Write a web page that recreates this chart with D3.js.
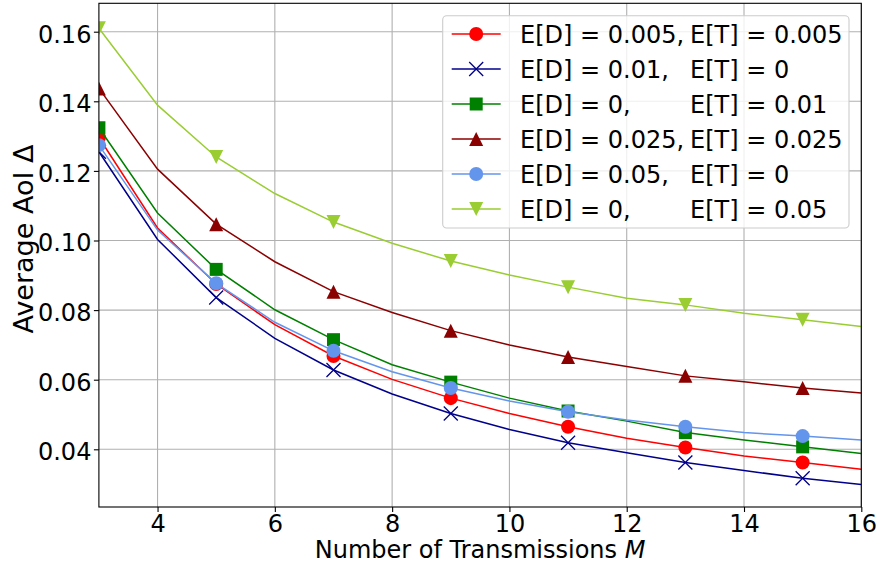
<!DOCTYPE html>
<html>
<head>
<meta charset="utf-8">
<script src="https://cdn.jsdelivr.net/npm/d3@7"></script>
<style>
  html, body { margin: 0; padding: 0; background: #fff; }
  svg { display: block; font-family: "DejaVu Sans", sans-serif; }
</style>
</head>
<body>
<svg id="chart" width="881" height="567"></svg>
<script>
// Number of transmissions M (line vertices) and the subset carrying markers
const mValues = [3, 4, 5, 6, 7, 8, 9, 10, 11, 12, 13, 14, 15, 16];
const markerEvery = 2;

// Average AoI for each (E[D], E[T]) setting
const aoiRed      = [0.1296, 0.1036, 0.0875, 0.0758, 0.0668, 0.0601, 0.0547, 0.0503, 0.0465, 0.0432, 0.0405, 0.0381, 0.0362, 0.0343];
const aoiNavy     = [0.1255, 0.1003, 0.0836, 0.0719, 0.0628, 0.0559, 0.0503, 0.0457, 0.0419, 0.0390, 0.0362, 0.0339, 0.0317, 0.0299];
const aoiGreen    = [0.1324, 0.1079, 0.0917, 0.0801, 0.0715, 0.0643, 0.0593, 0.0547, 0.0510, 0.0481, 0.0448, 0.0427, 0.0407, 0.0388];
const aoiDarkRed  = [0.1437, 0.1205, 0.1047, 0.0939, 0.0853, 0.0793, 0.0741, 0.0700, 0.0665, 0.0638, 0.0611, 0.0594, 0.0576, 0.0562];
const aoiBlue     = [0.1274, 0.1030, 0.0877, 0.0765, 0.0683, 0.0623, 0.0576, 0.0539, 0.0508, 0.0484, 0.0465, 0.0448, 0.0438, 0.0427];
const aoiLime     = [0.1610, 0.1389, 0.1240, 0.1135, 0.1053, 0.0992, 0.0941, 0.0901, 0.0866, 0.0834, 0.0815, 0.0791, 0.0772, 0.0753];

// Legend text, split into the E[D] and E[T] columns
const edLabels = ["E[D] = 0.005,", "E[D] = 0.01,", "E[D] = 0,", "E[D] = 0.025,", "E[D] = 0.05,", "E[D] = 0,"];
const etLabels = ["E[T] = 0.005", "E[T] = 0", "E[T] = 0.01", "E[T] = 0.025", "E[T] = 0", "E[T] = 0.05"];

// Axis ticks
const xTicks = [4, 6, 8, 10, 12, 14, 16];
const yTicks = [0.04, 0.06, 0.08, 0.10, 0.12, 0.14, 0.16];

const series = [
  { values: aoiRed,     color: "#ff0000", marker: "circle" },
  { values: aoiNavy,    color: "#00008b", marker: "x" },
  { values: aoiGreen,   color: "#008000", marker: "square" },
  { values: aoiDarkRed, color: "#8b0000", marker: "triangleUp" },
  { values: aoiBlue,    color: "#6495ed", marker: "circle" },
  { values: aoiLime,    color: "#9acd32", marker: "triangleDown" }
];

const svg = d3.select("#chart");
const plot = { left: 98.9, right: 861.3, top: 3.3, bottom: 507 };
const fontSize = 24;

const x = d3.scaleLinear().domain([3, 16]).range([plot.left, plot.right]);
const y = d3.scaleLinear().domain([0.02342, 0.16816]).range([plot.bottom, plot.top]);

svg.append("defs").append("clipPath").attr("id", "plot-clip")
  .append("rect")
  .attr("x", plot.left).attr("y", plot.top)
  .attr("width", plot.right - plot.left).attr("height", plot.bottom - plot.top);

// Grid
const grid = svg.append("g");
grid.selectAll(".gx").data(xTicks).join("line")
  .attr("x1", d => x(d)).attr("x2", d => x(d))
  .attr("y1", plot.top).attr("y2", plot.bottom)
  .attr("stroke", "#b0b0b0").attr("stroke-width", 1.1);
grid.selectAll(".gy").data(yTicks).join("line")
  .attr("x1", plot.left).attr("x2", plot.right)
  .attr("y1", d => y(d)).attr("y2", d => y(d))
  .attr("stroke", "#b0b0b0").attr("stroke-width", 1.1);

// Axes
const xAxis = d3.axisBottom(x).tickValues(xTicks).tickFormat(d3.format("d")).tickSize(5).tickPadding(5);
const yAxis = d3.axisLeft(y).tickValues(yTicks).tickFormat(d3.format(".2f")).tickSize(5).tickPadding(5);

const gx = svg.append("g").attr("transform", `translate(0,${plot.bottom})`).call(xAxis);
const gy = svg.append("g").attr("transform", `translate(${plot.left},0)`).call(yAxis);
[gx, gy].forEach(g => {
  g.select(".domain").remove();
  g.selectAll(".tick line").attr("stroke", "#000").attr("stroke-width", 1.1);
  g.selectAll(".tick text").attr("fill", "#000")
    .style("font-size", fontSize + "px").style("font-family", "DejaVu Sans, sans-serif");
});
gx.selectAll(".tick text").attr("dy", null).attr("y", 24.5);
gy.selectAll(".tick text").attr("dy", "0.43em").attr("x", -7.5);

// Marker shapes
function drawMarker(g, kind, color, cx, cy) {
  const r = 7;
  if (kind === "circle") {
    g.append("circle").attr("cx", cx).attr("cy", cy).attr("r", r).attr("fill", color);
  } else if (kind === "square") {
    g.append("rect").attr("x", cx - 6.5).attr("y", cy - 6.5).attr("width", 13).attr("height", 13).attr("fill", color);
  } else if (kind === "triangleUp") {
    g.append("path").attr("d", `M${cx},${cy - r}L${cx + r},${cy + r}L${cx - r},${cy + r}Z`).attr("fill", color);
  } else if (kind === "triangleDown") {
    g.append("path").attr("d", `M${cx},${cy + r}L${cx + r},${cy - r}L${cx - r},${cy - r}Z`).attr("fill", color);
  } else if (kind === "x") {
    g.append("path").attr("d", `M${cx - r},${cy - r}L${cx + r},${cy + r}M${cx - r},${cy + r}L${cx + r},${cy - r}`)
      .attr("stroke", color).attr("stroke-width", 1.3).attr("fill", "none");
  }
}

// Series lines and markers
const dataLayer = svg.append("g").attr("clip-path", "url(#plot-clip)");
const line = d3.line().x(d => x(d[0])).y(d => y(d[1]));
series.forEach(s => {
  const pts = mValues.map((m, i) => [m, s.values[i]]);
  const g = dataLayer.append("g");
  g.append("path").datum(pts).attr("d", line)
    .attr("fill", "none").attr("stroke", s.color).attr("stroke-width", 1.5);
  pts.filter((p, i) => i % markerEvery === 0)
    .forEach(p => drawMarker(g, s.marker, s.color, x(p[0]), y(p[1])));
});

// Frame
svg.append("rect")
  .attr("x", plot.left).attr("y", plot.top)
  .attr("width", plot.right - plot.left).attr("height", plot.bottom - plot.top)
  .attr("fill", "none").attr("stroke", "#000").attr("stroke-width", 1.1);

// Axis labels
const xl = svg.append("text")
  .attr("x", (plot.left + plot.right) / 2).attr("y", 558)
  .attr("text-anchor", "middle").style("font-size", fontSize + "px");
xl.append("tspan").text("Number of Transmissions ");
xl.append("tspan").style("font-style", "italic").text("M");

svg.append("text")
  .attr("transform", "translate(32.5,239) rotate(-90)")
  .attr("text-anchor", "middle").style("font-size", "27px")
  .text("Average AoI Δ");

// Legend
const legend = svg.append("g");
legend.append("rect")
  .attr("x", 442.7).attr("y", 15.7).attr("width", 406.3).attr("height", 212.3)
  .attr("rx", 4).attr("fill", "#fff").attr("fill-opacity", 0.8)
  .attr("stroke", "#cccccc").attr("stroke-width", 1.1);
const rowY = d3.scaleLinear().domain([0, 5]).range([34, 209]);
series.forEach((s, i) => {
  const cy = rowY(i);
  const g = legend.append("g");
  g.append("line").attr("x1", 451.7).attr("x2", 500.7).attr("y1", cy).attr("y2", cy)
    .attr("stroke", s.color).attr("stroke-width", 1.5);
  drawMarker(g, s.marker, s.color, 476.2, cy);
  g.append("text").attr("x", 520).attr("y", cy).attr("dy", "0.36em")
    .style("font-size", fontSize + "px").text(edLabels[i]);
  g.append("text").attr("x", 690).attr("y", cy).attr("dy", "0.36em")
    .style("font-size", fontSize + "px").text(etLabels[i]);
});
</script>
</body>
</html>
